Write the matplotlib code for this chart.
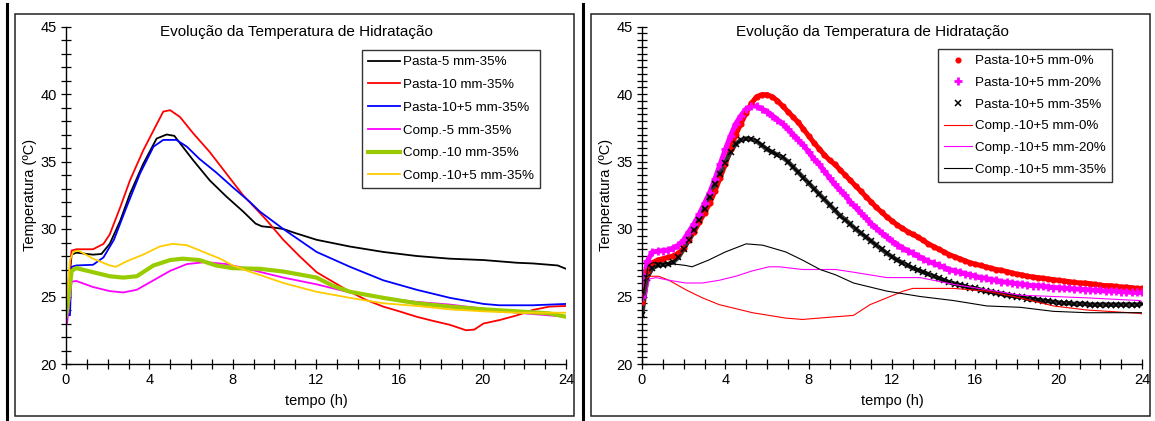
import matplotlib.pyplot as plt
import numpy as np
from matplotlib.patches import Rectangle
from matplotlib.lines import Line2D

plt.rcParams['font.family'] = ['Liberation Sans', 'DejaVu Sans']

TITLE = "Evolução da Temperatura de Hidratação"

# ---- left panel: pastes and composites, 35% ----
t_p5 = [0, 0.1, 0.27, 0.5, 1.0, 1.3, 1.7, 2.1, 2.6, 3.07, 3.7, 4.35, 4.83, 5.2, 6.1, 6.9,
        7.7, 8.5, 9.1, 9.4, 10.0, 10.43, 11.0, 12.03, 13.63, 15.23, 16.83, 18.43, 20.04,
        21.64, 22.4, 23.2, 23.6, 24.0]
T_p5 = [24.0, 25.5, 28.1, 28.25, 28.15, 28.1, 28.15, 28.9, 30.6, 32.6, 34.8, 36.7, 37.0,
        36.9, 35.1, 33.6, 32.4, 31.3, 30.4, 30.2, 30.1, 30.0, 29.7, 29.2, 28.7, 28.3, 28.0,
        27.8, 27.7, 27.5, 27.45, 27.35, 27.3, 27.05]

t_p10 = [0, 0.05, 0.27, 0.5, 1.3, 1.8, 2.1, 2.6, 3.07, 3.7, 4.2, 4.67, 5.0, 5.47, 6.1, 6.9,
         7.7, 8.5, 9.3, 9.6, 10.43, 11.2, 12.03, 12.8, 13.63, 14.4, 15.23, 16.0, 16.83,
         17.6, 18.43, 19.2, 19.6, 20.04, 20.8, 21.64, 22.4, 23.2, 24.0]
T_p10 = [24.7, 25.0, 28.4, 28.5, 28.5, 28.9, 29.6, 31.6, 33.6, 35.8, 37.3, 38.7, 38.8, 38.3,
         37.1, 35.7, 34.1, 32.5, 31.2, 30.7, 29.2, 28.0, 26.8, 26.1, 25.35, 24.75, 24.25,
         23.9, 23.5, 23.2, 22.9, 22.5, 22.55, 23.0, 23.25, 23.6, 24.0, 24.25, 24.3]

t_p105 = [0, 0.19, 0.27, 0.5, 1.3, 1.8, 2.3, 2.9, 3.55, 4.2, 4.67, 5.3, 5.8, 6.4, 7.2, 8.0,
          8.83, 9.3, 10.43, 12.03, 13.63, 15.23, 16.83, 18.43, 20.04, 20.8, 22.4, 24.0]
T_p105 = [23.7, 23.6, 27.2, 27.3, 27.35, 27.9, 29.2, 31.6, 34.1, 36.1, 36.6, 36.6, 36.1,
          35.2, 34.2, 33.1, 32.0, 31.3, 30.0, 28.3, 27.2, 26.2, 25.5, 24.9, 24.45, 24.35,
          24.35, 24.45]

t_c5 = [0, 0.05, 0.27, 0.5, 1.3, 2.1, 2.75, 3.4, 4.2, 5.0, 5.8, 6.7, 7.7, 8.7, 10.43,
        12.03, 13.63, 15.23, 16.83, 18.43, 20.04, 21.64, 24.0]
T_c5 = [22.9, 23.0, 26.1, 26.15, 25.7, 25.4, 25.3, 25.5, 26.2, 26.9, 27.4, 27.55, 27.4,
        27.05, 26.4, 25.9, 25.3, 24.9, 24.6, 24.4, 24.1, 23.8, 23.5]

t_c10 = [0, 0.05, 0.27, 0.5, 1.3, 2.1, 2.75, 3.4, 4.2, 5.0, 5.6, 6.4, 7.2, 8.0, 9.3, 10.43,
         12.03, 12.8, 13.63, 15.23, 16.83, 18.43, 20.04, 21.64, 23.2, 24.0]
T_c10 = [23.6, 24.0, 26.9, 27.1, 26.8, 26.5, 26.4, 26.5, 27.3, 27.7, 27.8, 27.7, 27.3, 27.1,
         27.05, 26.85, 26.4, 25.8, 25.35, 24.9, 24.5, 24.25, 24.05, 23.9, 23.75, 23.5]

t_c105 = [0, 0.03, 0.19, 0.35, 0.6, 1.3, 2.1, 2.4, 2.9, 3.7, 4.5, 5.1, 5.8, 6.6, 7.4, 8.0,
          8.7, 9.3, 10.43, 12.03, 13.63, 15.23, 16.83, 18.43, 20.04, 21.64, 24.0]
T_c105 = [24.5, 24.7, 27.7, 28.3, 28.4, 27.8, 27.3, 27.2, 27.6, 28.1, 28.7, 28.9, 28.8, 28.3,
          27.8, 27.3, 26.9, 26.6, 26.0, 25.35, 24.9, 24.5, 24.3, 24.05, 23.9, 23.8, 23.8]

# ---- right panel: pastes (markers, every 15 min) and composites 10+5 mm ----
t_pasta = np.arange(0, 24.01, 0.25)
T_pasta0 = [24.6, 26.9, 27.5, 27.7, 27.8, 27.9, 28.0, 28.2, 28.6, 29.2, 29.8, 30.5, 31.2,
            31.9, 32.8, 33.8, 34.8, 35.9, 37.0, 37.8, 38.6, 39.3, 39.8, 39.95, 39.95, 39.8,
            39.5, 39.1, 38.7, 38.3, 37.9, 37.4, 36.9, 36.4, 35.95, 35.5, 35.1, 34.8, 34.4,
            34.0, 33.6, 33.2, 32.8, 32.4, 32.0, 31.6, 31.25, 30.9, 30.6, 30.3, 30.05, 29.8,
            29.6, 29.4, 29.15, 28.9, 28.7, 28.5, 28.3, 28.1, 27.95, 27.8, 27.65, 27.5, 27.4,
            27.3, 27.2, 27.1, 27.0, 26.95, 26.85, 26.75, 26.65, 26.6, 26.5, 26.45, 26.4,
            26.35, 26.3, 26.25, 26.2, 26.15, 26.1, 26.05, 26.0, 26.0, 25.95, 25.9, 25.85,
            25.8, 25.8, 25.75, 25.7, 25.7, 25.65, 25.6, 25.6]
T_pasta20 = [25.0, 27.6, 28.3, 28.35, 28.4, 28.45, 28.6, 28.8, 29.2, 29.8, 30.4, 31.1, 31.9,
             32.7, 33.7, 34.8, 35.9, 36.9, 37.8, 38.4, 38.9, 39.1, 39.1, 38.9, 38.7, 38.4,
             38.1, 37.8, 37.4, 37.0, 36.6, 36.2, 35.7, 35.2, 34.8, 34.3, 33.8, 33.3, 32.9,
             32.5, 32.0, 31.6, 31.2, 30.8, 30.4, 30.05, 29.7, 29.4, 29.1, 28.85, 28.6, 28.4,
             28.2, 28.0, 27.8, 27.6, 27.45, 27.3, 27.15, 27.0, 26.9, 26.8, 26.7, 26.6, 26.5,
             26.4, 26.35, 26.25, 26.2, 26.1, 26.05, 26.0, 25.95, 25.9, 25.85, 25.8, 25.8,
             25.75, 25.7, 25.65, 25.65, 25.6, 25.6, 25.55, 25.55, 25.5, 25.5, 25.45, 25.45,
             25.4, 25.4, 25.4, 25.35, 25.35, 25.3, 25.3, 25.3]
T_pasta35 = [23.6, 26.4, 27.1, 27.3, 27.35, 27.4, 27.55, 27.9, 28.5, 29.2, 29.9, 30.7, 31.5,
             32.4, 33.3, 34.1, 34.9, 35.7, 36.3, 36.6, 36.7, 36.65, 36.5, 36.2, 35.9, 35.7,
             35.5, 35.3, 35.0, 34.6, 34.2, 33.8, 33.4, 33.0, 32.6, 32.2, 31.8, 31.4, 31.0,
             30.7, 30.35, 30.0, 29.7, 29.4, 29.1, 28.8, 28.5, 28.2, 27.95, 27.7, 27.5, 27.3,
             27.1, 26.95, 26.8, 26.65, 26.5, 26.35, 26.2, 26.05, 25.95, 25.85, 25.75, 25.65,
             25.6, 25.5, 25.4, 25.35, 25.25, 25.2, 25.1, 25.05, 25.0, 24.95, 24.85, 24.8,
             24.75, 24.7, 24.65, 24.6, 24.55, 24.5, 24.5, 24.45, 24.45, 24.45, 24.4, 24.4,
             24.4, 24.4, 24.4, 24.4, 24.4, 24.4, 24.4, 24.4, 24.45]

t_k0 = [0, 0.1, 0.2, 0.35, 0.8, 1.3, 2.1, 2.9, 3.7, 4.5, 5.3, 6.1, 6.9, 7.7, 8.5, 9.3,
        10.15, 10.95, 11.75, 12.55, 13.0, 14.95, 16.55, 18.15, 19.75, 21.35, 23.9, 24.0]
T_k0 = [24.6, 25.5, 26.3, 26.5, 26.5, 26.2, 25.5, 24.9, 24.4, 24.1, 23.8, 23.6, 23.4, 23.3,
        23.4, 23.5, 23.6, 24.4, 24.9, 25.4, 25.6, 25.6, 25.4, 24.9, 24.3, 24.0, 23.75, 23.7]

t_k20 = [0, 0.1, 0.2, 0.35, 0.67, 1.3, 2.1, 2.9, 3.7, 4.5, 5.3, 6.1, 6.6, 7.7, 8.55, 9.3,
         10.15, 11.75, 13.35, 14.95, 16.55, 18.15, 19.75, 21.35, 23.9, 24.0]
T_k20 = [25.0, 25.0, 25.1, 26.3, 26.4, 26.2, 26.0, 26.0, 26.2, 26.5, 26.9, 27.2, 27.2, 27.0,
         27.0, 27.0, 26.8, 26.4, 26.4, 25.9, 25.5, 25.1, 25.0, 24.9, 24.7, 24.6]

t_k35 = [0, 0.1, 0.3, 0.5, 1.3, 2.1, 2.4, 3.2, 4.0, 5.0, 5.8, 6.9, 7.7, 8.55, 9.3, 10.15,
         11.75, 13.35, 14.95, 16.55, 18.15, 19.75, 21.35, 23.9, 24.0]
T_k35 = [24.6, 25.5, 27.3, 27.5, 27.45, 27.3, 27.2, 27.7, 28.3, 28.9, 28.8, 28.3, 27.7, 27.0,
         26.6, 26.0, 25.4, 25.0, 24.7, 24.3, 24.2, 23.9, 23.8, 23.8, 23.8]

W, H = 1155, 421
fig = plt.figure(figsize=(W / 100, H / 100), dpi=100)

# chart-area borders and the thick separators
fig.add_artist(Rectangle((15 / W, 1 - 416 / H), 559 / W, 402 / H, fill=False,
                         edgecolor='#222222', linewidth=1.1, transform=fig.transFigure))
fig.add_artist(Rectangle((591 / W, 1 - 416 / H), 559 / W, 402 / H, fill=False,
                         edgecolor='#222222', linewidth=1.1, transform=fig.transFigure))
for xs in (7, 583):
    fig.add_artist(Line2D([xs / W, xs / W], [0, 1 - 4 / H], color='black',
                          linewidth=2.2, transform=fig.transFigure))

ax1 = fig.add_axes([66 / W, 1 - 364 / H, 500 / W, 337.5 / H])
ax2 = fig.add_axes([642 / W, 1 - 364 / H, 500 / W, 337.5 / H])


def style_axes(ax, yminor):
    ax.set_xlim(0, 24)
    ax.set_ylim(20, 45)
    ax.set_xticks(range(0, 25, 4))
    ax.set_xticks(range(0, 25, 1), minor=True)
    ax.set_yticks(range(20, 46, 5))
    ax.set_yticks(np.arange(20, 45.01, yminor), minor=True)
    for s in ('top', 'right'):
        ax.spines[s].set_visible(False)
    for s in ('left', 'bottom'):
        ax.spines[s].set_linewidth(1.0)
    ax.tick_params(which='both', direction='inout', length=7, width=0.9,
                   labelsize=10.5, pad=3)
    ax.patch.set_alpha(0)
    ax.text(0.46, 0.985, TITLE, transform=ax.transAxes, ha='center', va='center',
            fontsize=11)
    ax.set_xlabel('tempo (h)', fontsize=10.5)
    ax.xaxis.set_label_coords(0.5, -0.09)
    ax.set_ylabel('Temperatura (ºC)', fontsize=10.5)
    ax.yaxis.set_label_coords(-0.058, 0.5)


style_axes(ax1, 1)
style_axes(ax2, 0.5)

ax1.plot(t_p5, T_p5, color='black', lw=1.3, label='Pasta-5 mm-35%')
ax1.plot(t_p10, T_p10, color='#FF0000', lw=1.3, label='Pasta-10 mm-35%')
ax1.plot(t_p105, T_p105, color='#0000FF', lw=1.3, label='Pasta-10+5 mm-35%')
ax1.plot(t_c5, T_c5, color='#FF00FF', lw=1.3, label='Comp.-5 mm-35%')
ax1.plot(t_c10, T_c10, color='#99CC00', lw=3.0, label='Comp.-10 mm-35%')
ax1.plot(t_c105, T_c105, color='#FFCC00', lw=1.3, label='Comp.-10+5 mm-35%')

ax1.legend(loc='upper left', bbox_to_anchor=(362 / W, 1 - 50 / H),
           bbox_transform=fig.transFigure, borderaxespad=0, fontsize=9.6,
           frameon=True, fancybox=False, edgecolor='#333333', framealpha=1,
           handlelength=2.4, handletextpad=0.2, labelspacing=0.78, borderpad=0.45)

# dense marker bands
ax2.plot(t_pasta, T_pasta0, color='#FF0000', lw=3.6, zorder=2)
ax2.plot(t_pasta, T_pasta20, color='#FF00FF', lw=3.6, zorder=2)
ax2.plot(t_pasta, T_pasta35, color='#333333', lw=3.2, zorder=2)
ax2.plot(t_pasta, T_pasta0, ls='none', marker='o', ms=3.4, color='#FF0000',
         zorder=3, label='Pasta-10+5 mm-0%')
ax2.plot(t_pasta, T_pasta20, ls='none', marker='+', ms=6, mew=2.0, color='#FF00FF',
         zorder=3, label='Pasta-10+5 mm-20%')
ax2.plot(t_pasta, T_pasta35, ls='none', marker='x', ms=4.8, mew=1.1, color='black',
         zorder=3, label='Pasta-10+5 mm-35%')
ax2.plot(t_k0, T_k0, color='#FF0000', lw=0.8, zorder=4, label='Comp.-10+5 mm-0%')
ax2.plot(t_k20, T_k20, color='#FF00FF', lw=0.8, zorder=4, label='Comp.-10+5 mm-20%')
ax2.plot(t_k35, T_k35, color='black', lw=0.8, zorder=4, label='Comp.-10+5 mm-35%')

h, l = ax2.get_legend_handles_labels()
ax2.legend(h, l, loc='upper left', bbox_to_anchor=(938 / W, 1 - 49 / H),
           bbox_transform=fig.transFigure, borderaxespad=0, fontsize=9.6,
           frameon=True, fancybox=False, edgecolor='#333333', framealpha=1,
           handlelength=2.1, handletextpad=0.25, labelspacing=0.7, borderpad=0.45)

fig.savefig('out.png', dpi=100)
